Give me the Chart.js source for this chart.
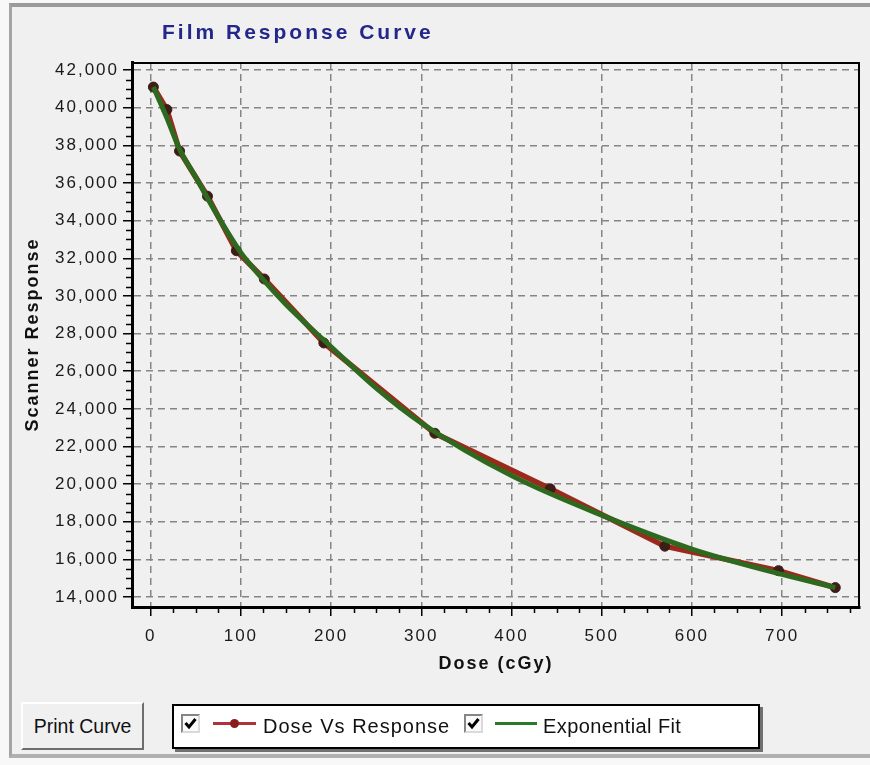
<!DOCTYPE html>
<html>
<head>
<meta charset="utf-8">
<script src="https://cdn.jsdelivr.net/npm/chart.js@4.4.1/dist/chart.umd.min.js"></script>
<style>
  html, body { margin: 0; padding: 0; }
  body { width: 870px; height: 765px; background: #f8f8f8; position: relative; overflow: hidden;
         font-family: "Liberation Sans", Arial, sans-serif; }
  #panel { position: absolute; left: 9px; top: 3px; width: 861px; height: 755px; box-sizing: border-box;
           background: #f0f0f0; border-top: 4px solid #9a9a9a; border-left: 3px solid #a4a4a4;
           border-bottom: 4px solid #b0b0b0; }
  #chart { position: absolute; left: 0; top: 0; }
  #title { position: absolute; left: 162px; top: 20px; font-weight: bold; font-size: 21px; line-height: 24px;
           letter-spacing: 3px; color: #23268a; white-space: nowrap; }
  #printBtn { position: absolute; left: 21px; top: 702px; width: 123px; height: 48px; box-sizing: border-box;
              border: 2px solid; border-color: #ffffff #6e6e6e #6e6e6e #ffffff; background: #f0f0f0;
              font-size: 19.5px; line-height: 44px; text-align: center; color: #111; }
  #legendBox { position: absolute; left: 172px; top: 704px; width: 588px; height: 45px; box-sizing: border-box;
               border: 2px solid #000; background: #fff; box-shadow: 3px 3px 0 #707070; }
  .cb { position: absolute; top: 714px; width: 19px; height: 19px; box-sizing: border-box;
        border: 2px solid; border-color: #858585 #dadada #dadada #858585; background: #fafafa; }
  .cb svg { position: absolute; left: 0px; top: 0px; }
  .sample { position: absolute; height: 3px; top: 722px; }
  .dot { position: absolute; width: 9px; height: 9px; border-radius: 50%; top: 719px; }
  .ltext { position: absolute; top: 714px; font-size: 20px; line-height: 24px;
           color: #111; white-space: nowrap; }
</style>
</head>
<body>
<div id="panel"></div>
<canvas id="chart" width="870" height="765"></canvas>
<div id="title">Film Response Curve</div>
<div id="printBtn">Print Curve</div>
<div id="legendBox"></div>
<div id="legendItems"></div>
<script>
// measured points (dose in cGy, scanner response)
const doseValues = [3, 18, 32, 63, 95, 126, 192, 315, 443, 570, 696, 759];
const responseValues = [41100, 39900, 37700, 35300, 32400, 30900, 27500, 22700, 19750, 16700, 15400, 14500];

// fitted curve
const fitDose = [3, 18, 32, 50, 75, 100, 125, 150, 200, 250, 300, 400, 500, 600, 700, 759];
const fitResponse = [41100, 39450, 37800, 36300, 34200, 32300, 30850, 29550, 27300, 25100, 23250, 20450, 18350, 16550, 15200, 14500];

const xTickValues = [0, 100, 200, 300, 400, 500, 600, 700];
const yTickValues = [14000, 16000, 18000, 20000, 22000, 24000, 26000, 28000, 30000, 32000, 34000, 36000, 38000, 40000, 42000];
const seriesNames = ['Dose Vs Response', 'Exponential Fit'];

const redLine = '#9b2a1c';
const redPoint = '#3f1d17';
const greenLine = '#2d6a1f';
const gridColor = '#858585';
const fontFamily = '"Liberation Sans", Arial, sans-serif';

// legend, built from the series names and colours
(function buildLegend() {
    const box = document.getElementById('legendItems');
    const items = [
        { cb: 181, lineFrom: 213, lineTo: 256, text: 263, spacing: 1, color: '#b0303c', dot: '#8b1c1c' },
        { cb: 464, lineFrom: 495, lineTo: 537, text: 543, spacing: 0.4, color: '#2a7a2a', dot: null }
    ];
    const check = '<svg width="15" height="15" viewBox="0 0 15 15"><polyline points="2.5,7 6,11 12.5,3" fill="none" stroke="#000" stroke-width="3"/></svg>';
    let html = '';
    items.forEach((it, i) => {
        html += '<span class="cb" style="left:' + it.cb + 'px">' + check + '</span>';
        html += '<span class="sample" style="left:' + it.lineFrom + 'px;width:' + (it.lineTo - it.lineFrom) + 'px;background:' + it.color + '"></span>';
        if (it.dot) {
            html += '<span class="dot" style="left:' + ((it.lineFrom + it.lineTo) / 2 - 4.5) + 'px;background:' + it.dot + '"></span>';
        }
        html += '<span class="ltext" style="left:' + it.text + 'px;letter-spacing:' + it.spacing + 'px">' + seriesNames[i] + '</span>';
    });
    box.innerHTML = html;
})();

const framePlugin = {
    id: 'frame',
    beforeDraw(chart) {
        chart.ctx.letterSpacing = '2px';
    },
    afterDraw(chart) {
        const ctx = chart.ctx;
        const area = chart.chartArea;
        const xs = chart.scales.x;
        const ys = chart.scales.y;
        ctx.save();
        ctx.strokeStyle = '#000';
        // top and right border of the plot
        ctx.lineWidth = 2;
        ctx.beginPath();
        ctx.moveTo(area.left, area.top + 1);
        ctx.lineTo(area.right - 1, area.top + 1);
        ctx.lineTo(area.right - 1, area.bottom);
        ctx.stroke();
        // minor ticks
        ctx.lineWidth = 1.5;
        ctx.beginPath();
        for (let v = 25; v < xs.max; v += 25) {
            if (v % 100 === 0) continue;
            const px = Math.round(xs.getPixelForValue(v)) + 0.5;
            ctx.moveTo(px, area.bottom + 1);
            ctx.lineTo(px, area.bottom + 6);
        }
        for (let v = 14500; v < ys.max; v += 500) {
            if (v % 2000 === 0) continue;
            const py = Math.round(ys.getPixelForValue(v)) + 0.5;
            ctx.moveTo(area.left - 1, py);
            ctx.lineTo(area.left - 6, py);
        }
        ctx.stroke();
        ctx.restore();
    }
};

const ctx = document.getElementById('chart').getContext('2d');
const chart = new Chart(ctx, {
    type: 'line',
    data: {
        datasets: [{
            label: seriesNames[0],
            data: doseValues.map((d, i) => ({ x: d, y: responseValues[i] })),
            borderColor: redLine,
            borderWidth: 5.5,
            pointRadius: 5,
            pointBackgroundColor: redPoint,
            pointBorderColor: redPoint,
            pointBorderWidth: 1,
            tension: 0,
            order: 2
        }, {
            label: seriesNames[1],
            data: fitDose.map((d, i) => ({ x: d, y: fitResponse[i] })),
            borderColor: greenLine,
            borderWidth: 5,
            pointRadius: 0,
            cubicInterpolationMode: 'monotone',
            order: 1
        }]
    },
    options: {
        responsive: false,
        animation: false,
        layout: { padding: { left: 14, right: 10, top: 62, bottom: 86 } },
        plugins: {
            legend: { display: false },
            tooltip: { enabled: false },
            title: { display: false }
        },
        scales: {
            x: {
                type: 'linear',
                min: -20.7,
                max: 786.4,
                afterBuildTicks: s => { s.ticks = xTickValues.map(v => ({ value: v })); },
                afterFit: s => { s.height = 72; },
                grid: { color: gridColor, lineWidth: 1.5, tickLength: 9, tickColor: '#000', tickWidth: 1.5, tickBorderDash: [] },
                border: { color: '#000', width: 3, dash: [7, 5] },
                ticks: { autoSkip: false, maxRotation: 0, font: { family: fontFamily, size: 17 }, color: '#1a1a1a', padding: 10 },
                title: { display: true, text: 'Dose (cGy)', color: '#111', font: { family: fontFamily, size: 18, weight: 'bold' }, padding: { top: 0, bottom: 4 } }
            },
            y: {
                type: 'linear',
                min: 13470,
                max: 42430,
                afterBuildTicks: s => { s.ticks = yTickValues.map(v => ({ value: v })); },
                afterFit: s => { s.width = 118; },
                grid: { color: gridColor, lineWidth: 1.5, tickLength: 9, tickColor: '#000', tickWidth: 1.5, tickBorderDash: [] },
                border: { color: '#000', width: 3, dash: [7, 5] },
                ticks: {
                    autoSkip: false,
                    font: { family: fontFamily, size: 17 },
                    color: '#1a1a1a',
                    padding: 4,
                    callback: v => v.toLocaleString('en-US')
                },
                title: { display: true, text: 'Scanner Response', color: '#111', font: { family: fontFamily, size: 18, weight: 'bold' }, padding: { top: 8, bottom: 0 } }
            }
        }
    },
    plugins: [framePlugin]
});
</script>
</body>
</html>
